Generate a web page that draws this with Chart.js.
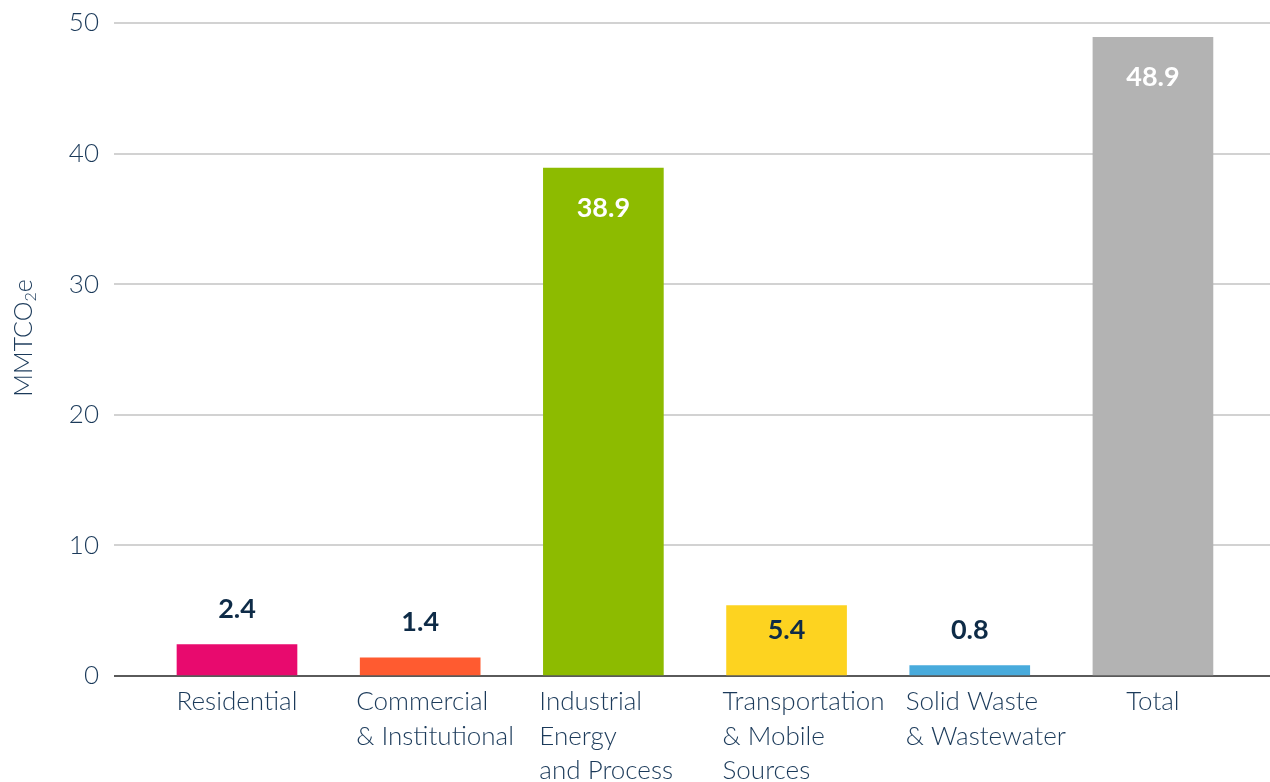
<!DOCTYPE html>
<html>
<head>
<meta charset="utf-8">
<script src="https://cdn.jsdelivr.net/npm/chart.js@4.4.1/dist/chart.umd.min.js"></script>
<style>
  html, body { margin: 0; padding: 0; background: #ffffff; }
  #wrap { width: 1270px; height: 782px; position: relative; }
</style>
</head>
<body>
<div id="wrap"><canvas id="c" width="1270" height="782"></canvas></div>
<script>
const categories = [
  ["Residential"],
  ["Commercial", "& Institutional"],
  ["Industrial", "Energy", "and Process"],
  ["Transportation", "& Mobile", "Sources"],
  ["Solid Waste", "& Wastewater"],
  ["Total"]
];
const emissions = [2.4, 1.4, 38.9, 5.4, 0.8, 48.9];
const barColors = ["#E80A6E", "#FF5B30", "#8DBB00", "#FDD320", "#49ABDC", "#B3B3B3"];
const yTicks = [0, 10, 20, 30, 40, 50];

const TEXT = "#1B3A5A";
const DARK = "#0E2B47";
const FONT = "Lato, 'Open Sans', sans-serif";
const LABEL_WEIGHT = "300";

const xLabelPlugin = {
  id: 'xLabels',
  afterDraw(chart) {
    const ctx = chart.ctx;
    const xs = chart.scales.x;
    ctx.save();
    ctx.font = LABEL_WEIGHT + " 26px " + FONT;
    ctx.fillStyle = TEXT;
    ctx.textAlign = 'left';
    ctx.textBaseline = 'middle';
    categories.forEach((lines, i) => {
      const px = xs.getPixelForValue(i);
      const w = Math.max(...lines.map(l => ctx.measureText(l).width));
      const x0 = px - Math.min(64, w / 2);
      lines.forEach((l, k) => {
        ctx.fillText(l, x0, chart.chartArea.bottom + 26 + k * 34.5);
      });
    });
    ctx.restore();
  }
};

const valueLabelPlugin = {
  id: 'valueLabels',
  afterDatasetsDraw(chart) {
    const ctx = chart.ctx;
    const meta = chart.getDatasetMeta(0);
    ctx.save();
    ctx.textAlign = 'center';
    ctx.textBaseline = 'middle';
    meta.data.forEach((bar, i) => {
      const v = emissions[i];
      const h = bar.base - bar.y;
      let y, color;
      if (v >= 5) {
        y = bar.y + Math.min(40, h * 0.35);
        color = v > 20 ? '#ffffff' : DARK;
      } else {
        y = bar.y - 35;
        color = DARK;
      }
      ctx.font = "700 27px " + FONT;
      ctx.fillStyle = color;
      ctx.fillText(v.toFixed(1), bar.x, y);
    });
    ctx.restore();
  }
};

const yTitlePlugin = {
  id: 'yTitle',
  afterDraw(chart) {
    const ctx = chart.ctx;
    ctx.save();
    ctx.translate(24, 338);
    ctx.rotate(-Math.PI / 2);
    ctx.fillStyle = TEXT;
    ctx.textBaseline = 'middle';
    const main1 = "MMTCO", sub = "2", main2 = "e";
    const big = LABEL_WEIGHT + " 25px " + FONT, small = LABEL_WEIGHT + " 16px " + FONT;
    ctx.font = big;
    const w1 = ctx.measureText(main1).width;
    const w3 = ctx.measureText(main2).width;
    ctx.font = small;
    const w2 = ctx.measureText(sub).width;
    let x = -(w1 + w2 + w3) / 2;
    ctx.font = big;
    ctx.fillText(main1, x, 0); x += w1;
    ctx.font = small;
    ctx.fillText(sub, x, 7); x += w2;
    ctx.font = big;
    ctx.fillText(main2, x, 0);
    ctx.restore();
  }
};

new Chart(document.getElementById('c'), {
  type: 'bar',
  data: {
    datasets: [{
      data: emissions.map((v, i) => ({ x: i, y: v })),
      backgroundColor: barColors,
      borderWidth: 0,
      barThickness: 120
    }]
  },
  options: {
    responsive: false,
    animation: false,
    events: [],
    layout: { padding: { top: 23, right: 0, left: 0, bottom: 0 } },
    plugins: { legend: { display: false }, tooltip: { enabled: false } },
    scales: {
      x: {
        type: 'linear',
        offset: false,
        min: -0.6714,
        max: 5.639,
        grid: { display: false, offset: false },
        border: { display: false },
        ticks: { display: false },
        afterBuildTicks: axis => { axis.ticks = categories.map((_, i) => ({ value: i })); },
        afterFit: scale => { scale.height = 106; scale.paddingLeft = 0; scale.paddingRight = 0; }
      },
      y: {
        min: 0,
        max: 50,
        afterBuildTicks: axis => { axis.ticks = yTicks.map(v => ({ value: v })); },
        afterFit: scale => { scale.width = 114; scale.paddingTop = 0; scale.paddingBottom = 0; },
        grid: {
          drawTicks: false,
          lineWidth: 2,
          color: ctx => ctx.tick && ctx.tick.value === 0 ? '#5A5A5A' : '#D2D2D2'
        },
        border: { display: false },
        ticks: {
          padding: 15,
          color: TEXT,
          font: { family: FONT, size: 26, weight: LABEL_WEIGHT }
        }
      }
    }
  },
  plugins: [xLabelPlugin, valueLabelPlugin, yTitlePlugin]
});
</script>
</body>
</html>
